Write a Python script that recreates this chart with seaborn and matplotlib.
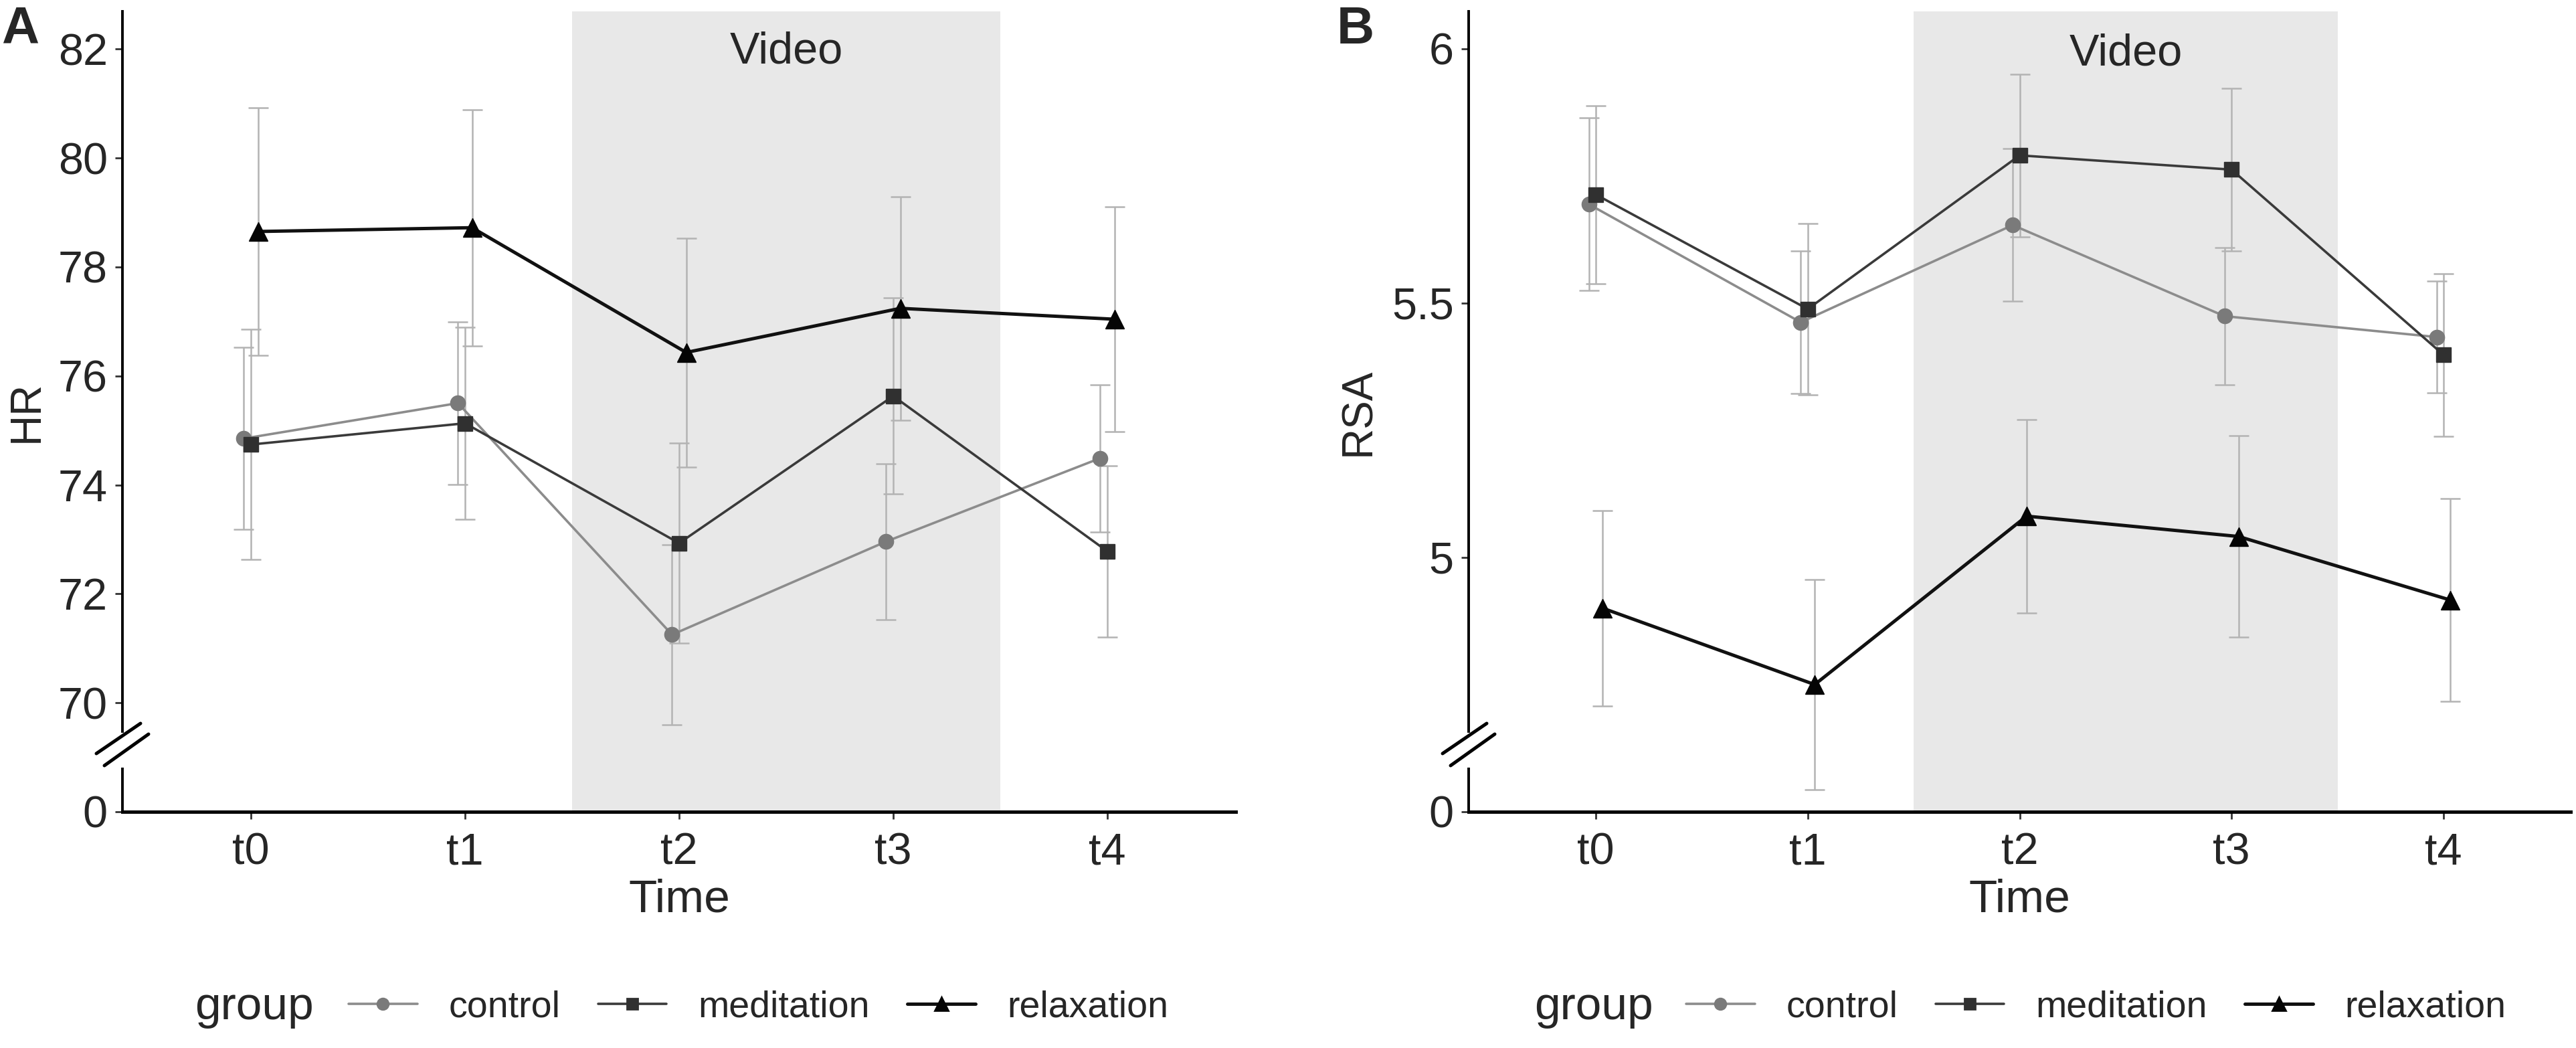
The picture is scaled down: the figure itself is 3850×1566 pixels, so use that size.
import numpy as np
import pandas as pd
import seaborn as sns
import matplotlib
matplotlib.use("Agg")
import matplotlib.pyplot as plt
from matplotlib.lines import Line2D

# ---------------- data ----------------
TIMES = ["t0", "t1", "t2", "t3", "t4"]
GROUPS = ["control", "meditation", "relaxation"]

HR_control = [74.85, 75.50, 71.25, 72.96, 74.49]
HR_control_se = [1.67, 1.49, 1.65, 1.43, 1.35]
HR_meditation = [74.74, 75.13, 72.93, 75.63, 72.78]
HR_meditation_se = [2.11, 1.76, 1.84, 1.80, 1.57]
HR_relaxation = [78.65, 78.72, 76.43, 77.24, 77.04]
HR_relaxation_se = [2.27, 2.17, 2.10, 2.05, 2.06]

RSA_control = [5.694, 5.462, 5.653, 5.474, 5.433]
RSA_control_se = [0.170, 0.140, 0.150, 0.135, 0.110]
RSA_meditation = [5.713, 5.488, 5.790, 5.762, 5.398]
RSA_meditation_se = [0.175, 0.168, 0.160, 0.160, 0.160]
RSA_relaxation = [4.900, 4.750, 5.081, 5.041, 4.916]
RSA_relaxation_se = [0.192, 0.207, 0.190, 0.198, 0.199]

HR_TICKS = [70, 72, 74, 76, 78, 80, 82]
RSA_TICKS = [5, 5.5, 6]
HR_TICKLABELS = ["70", "72", "74", "76", "78", "80", "82"]
RSA_TICKLABELS = ["5", "5.5", "6"]
BREAK_LABEL = "0"

# ---------------- style ----------------
sns.set_theme(style="white")
plt.rcParams["font.family"] = ["Liberation Sans", "DejaVu Sans"]

W, H = 3850, 1566
DPI = 200
fig = plt.figure(figsize=(W / DPI, H / DPI), dpi=DPI)

COLORS = {"control": "#7a7a7a", "meditation": "#303030", "relaxation": "#050505"}
LINE_COLORS = {"control": "#8c8c8c", "meditation": "#3a3a3a", "relaxation": "#111111"}
MARKERS = {"control": "o", "meditation": "s", "relaxation": "^"}
MSIZE = {"control": 8, "meditation": 8, "relaxation": 10}
LW = {"control": 1.3, "meditation": 1.3, "relaxation": 1.8}
DODGE = {"control": -0.033, "meditation": 0.0, "relaxation": 0.033}
ERR_COLOR = "#b3b3b3"
SHADE = "#e8e8e8"

def build_df(vals, ses):
    rows = []
    for g in GROUPS:
        for i, t in enumerate(TIMES):
            rows.append({"group": g, "time": t, "ti": i,
                         "value": vals[g][i], "se": ses[g][i]})
    return pd.DataFrame(rows)

hr_df = build_df({"control": HR_control, "meditation": HR_meditation, "relaxation": HR_relaxation},
                 {"control": HR_control_se, "meditation": HR_meditation_se, "relaxation": HR_relaxation_se})
rsa_df = build_df({"control": RSA_control, "meditation": RSA_meditation, "relaxation": RSA_relaxation},
                  {"control": RSA_control_se, "meditation": RSA_meditation_se, "relaxation": RSA_relaxation_se})


def px2fig(x, y):
    return x / W, 1 - y / H


def draw_panel(rect, df, ybot, ytop, ticks, ticklabels, ylabel, ylabel_x, video_y, spine_px):
    ax = fig.add_axes(rect)
    ax.set_xlim(-0.6, 4.6)
    ax.set_ylim(ybot, ytop)
    ax.axvspan(1.5, 3.5, color=SHADE, zorder=0, lw=0)
    ax.text(2.5, video_y, "Video", ha="center", va="center", fontsize=24, zorder=5)

    for g in GROUPS:
        sub = df[df.group == g]
        x = sub["ti"].to_numpy() + DODGE[g]
        ax.errorbar(x, sub["value"], yerr=sub["se"], fmt="none", ecolor=ERR_COLOR,
                    elinewidth=0.9, capsize=5.5, capthick=0.9, zorder=2)
        sns.lineplot(x=x, y=sub["value"].to_numpy(), ax=ax, color=LINE_COLORS[g],
                     linewidth=LW[g], marker=MARKERS[g], markersize=MSIZE[g],
                     markerfacecolor=COLORS[g], markeredgecolor=COLORS[g],
                     markeredgewidth=0.5, zorder=3, legend=False, sort=False)

    ax.set_xticks(range(len(TIMES)))
    ax.set_xticklabels(TIMES)
    ax.set_yticks([ybot] + ticks)
    ax.set_yticklabels([BREAK_LABEL] + ticklabels)
    ax.tick_params(axis="both", which="both", labelsize=24, length=4, width=1.0,
                   color="#333333", direction="out", left=True, bottom=True)
    ax.tick_params(axis="y", pad=4)
    ax.tick_params(axis="x", pad=7)

    ax.set_xlabel("Time", fontsize=25)
    ax.xaxis.set_label_coords(0.5, -0.083)
    ax.set_ylabel(ylabel, fontsize=23)
    ax.yaxis.set_label_coords(ylabel_x, 0.5)

    for s in ["top", "right"]:
        ax.spines[s].set_visible(False)
    ax.spines["bottom"].set_linewidth(1.8)
    ax.spines["bottom"].set_color("black")
    ax.spines["left"].set_linewidth(1.4)
    ax.spines["left"].set_color("black")

    # broken y axis
    frac_hi = 120 / 1196
    frac_lo = 66 / 1196
    yhi = ybot + frac_hi * (ytop - ybot)
    ax.spines["left"].set_bounds(yhi, ytop)
    ax.plot([0, 0], [0, frac_lo], transform=ax.transAxes, color="black", lw=1.4,
            clip_on=False, solid_capstyle="butt", zorder=6)
    for (dx0, y0, dx1, y1) in [(-40, 1126, 26, 1081), (-28, 1144, 38, 1097)]:
        xa, ya = px2fig(spine_px + dx0, y0)
        xb, yb = px2fig(spine_px + dx1, y1)
        fig.add_artist(Line2D([xa, xb], [ya, yb], color="black", lw=1.8,
                              transform=fig.transFigure))
    ax.set_facecolor("white")
    return ax


rectA = [183 / W, (H - 1213) / H, 1664 / W, 1196 / H]
rectB = [2195 / W, (H - 1213) / H, 1647 / W, 1196 / H]

axA = draw_panel(rectA, hr_df, 68.0, 82.69, HR_TICKS, HR_TICKLABELS, "HR", -0.068, 81.95, 184)
axB = draw_panel(rectB, rsa_df, 4.5, 6.073, RSA_TICKS, RSA_TICKLABELS, "RSA", -0.082, 5.99, 2196)

fig.text(2 / W, 1 - 8 / H, "A", fontsize=28, fontweight="bold", ha="left", va="top")
fig.text(1998 / W, 1 - 8 / H, "B", fontsize=28, fontweight="bold", ha="left", va="top")

# legends
handles = [Line2D([0], [0], color=LINE_COLORS[g], lw=LW[g], marker=MARKERS[g],
                  markersize=6 if g != "relaxation" else 7,
                  markerfacecolor=COLORS[g], markeredgecolor=COLORS[g]) for g in GROUPS]
leg_y = (H - 1505) / H
for gx, hx, ax in [(291, 521, axA), (2293, 2520, axB)]:
    fig.text(gx / W, leg_y, "group", fontsize=25, ha="left", va="center")
    leg = ax.legend(handles, GROUPS, loc="center left", bbox_to_anchor=(hx / W, leg_y),
                    bbox_transform=fig.transFigure, ncol=3, frameon=False, fontsize=20,
                    handlelength=1.85, handletextpad=0.85, columnspacing=1.0,
                    borderpad=0, borderaxespad=0)

fig.savefig("out.png", dpi=DPI, facecolor="white")
